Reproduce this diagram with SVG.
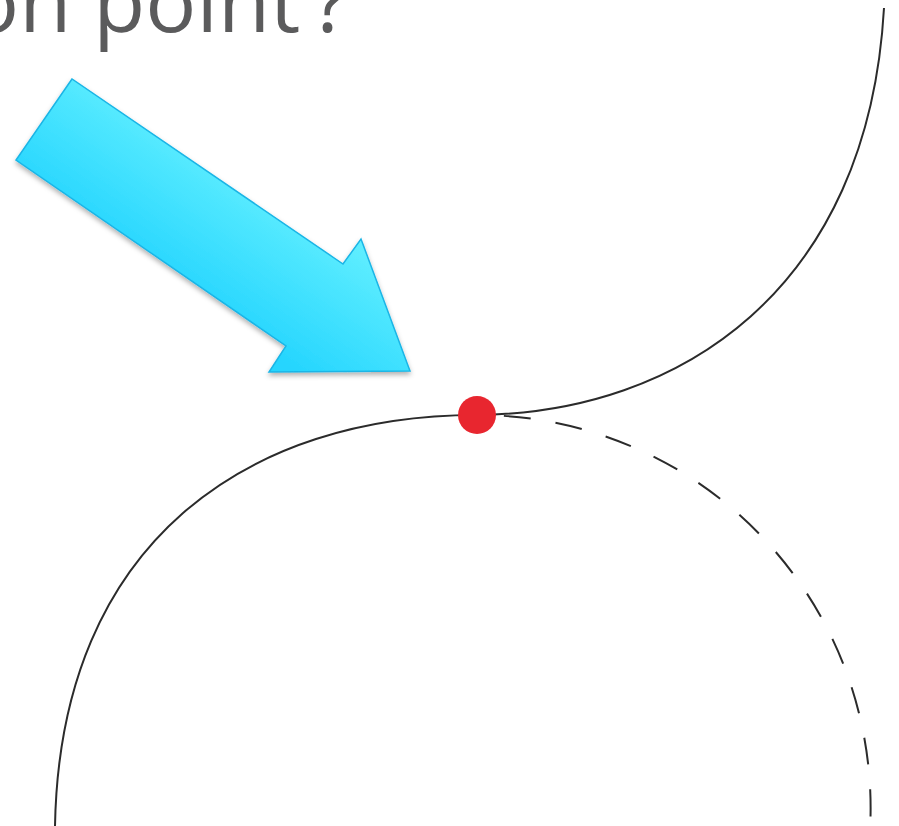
<svg xmlns="http://www.w3.org/2000/svg" width="899" height="826" viewBox="0 0 899 826">
  <style>
    .title { font-family: "Open Sans", "Liberation Sans", sans-serif; font-size: 85px; fill: #5b5b5c; }
    .curve { fill: none; stroke: #2b2b2b; stroke-width: 2; }
    .dashed { stroke-dasharray: 27 25; stroke-dashoffset: 25; }
  </style>
  <defs>
    <linearGradient id="arrowFill" gradientUnits="userSpaceOnUse" x1="175" y1="290" x2="270" y2="150">
      <stop offset="0" stop-color="#25d5fe"/>
      <stop offset="1" stop-color="#6bf3ff"/>
    </linearGradient>
    <filter id="shadow" x="-10%" y="-10%" width="130%" height="130%">
      <feDropShadow dx="0" dy="3" stdDeviation="2.5" flood-color="#000" flood-opacity="0.3"/>
    </filter>
  </defs>
  <rect width="899" height="826" fill="#ffffff"/>
  <text class="title" x="-32" y="32">on point<tspan dx="12">?</tspan></text>
  <g id="arrow">
    <polygon points="72,79 16,160 286,346 269,372 410,371 361,239 343,264" fill="url(#arrowFill)" stroke="#1ab5e6" stroke-width="1.5" stroke-linejoin="miter" filter="url(#shadow)"/>
  </g>
  <g id="connectors">
    <path class="curve" d="M477,415 C250,415 60,540 55,826"/>
    <path class="curve" d="M477,415 C680,413 868,290 884,8"/>
    <path class="curve dashed" d="M477,415 A393,393 0 0 1 870,830"/>
  </g>
  <g id="inflection-point">
    <circle cx="477" cy="415" r="19" fill="#e8262f"/>
  </g>
</svg>
